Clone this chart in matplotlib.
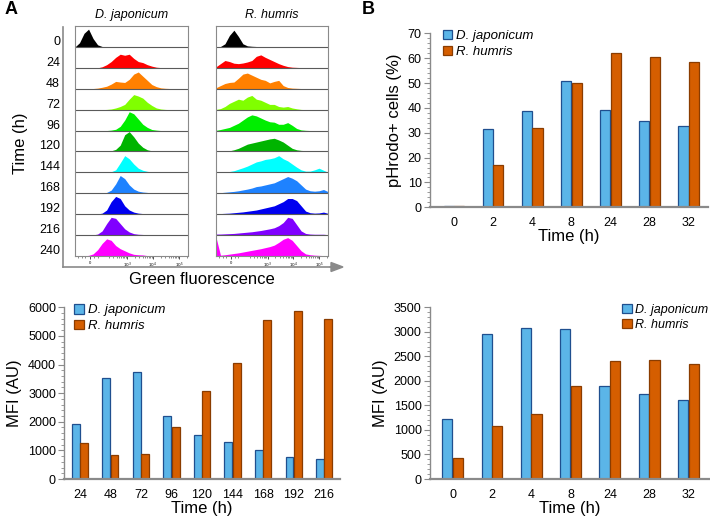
import numpy as np
import matplotlib
matplotlib.use("Agg")
import matplotlib.pyplot as plt
from matplotlib.patches import Patch
from matplotlib.ticker import MultipleLocator

plt.rcParams['font.family'] = ['Liberation Sans', 'DejaVu Sans']

# -----------------------------
# Data: flow histograms (panel A)
# -----------------------------
hist_times = [0, 24, 48, 72, 96, 120, 144, 168, 192, 216, 240]
hist_colors = ["#000000", "#ff0000", "#ff8000", "#80ff00", "#00ee00", "#00b400",
               "#00ffff", "#1e82ff", "#0000f0", "#8000ff", "#ff00ff"]
fl_grid = list(range(0, 101, 4))

dj_hist = [
    [0, 2, 6.5, 8.5, 4, 1, 0.2, 0, 0, 0, 0, 0, 0, 0, 0, 0, 0, 0, 0, 0, 0, 0, 0, 0, 0, 0],
    [0, 0, 0, 0, 0, 0, 0.5, 1.5, 3, 5, 6.5, 6, 6.5, 4.5, 3, 2.5, 1.5, 0.8, 0.3, 0.1, 0, 0, 0, 0, 0, 0],
    [0, 0, 0, 0, 0.1, 0.3, 0.7, 1.2, 2.2, 3.5, 3.2, 3, 4.5, 7, 8, 6, 4, 2, 1, 0.4, 0.2, 0.1, 0, 0, 0, 0],
    [0, 0, 0, 0, 0, 0, 0, 0.1, 0.3, 0.8, 1.5, 2.5, 5, 7.2, 6.5, 5.5, 3.5, 2, 0.8, 0.3, 0.1, 0, 0, 0, 0, 0],
    [0, 0, 0, 0, 0, 0, 0, 0, 0.2, 0.6, 2, 5, 9, 8, 5.5, 3, 1.5, 0.5, 0.2, 0, 0, 0, 0, 0, 0, 0],
    [0, 0, 0, 0, 0, 0, 0, 0.1, 0.3, 1, 3, 8, 9.5, 7, 4, 2, 0.8, 0.3, 0.1, 0, 0, 0, 0, 0, 0, 0],
    [0, 0, 0, 0, 0, 0, 0, 0.1, 0.3, 1.2, 4.5, 8, 6.5, 4, 2, 1, 0.5, 0.2, 0.1, 0, 0, 0, 0, 0, 0, 0],
    [0, 0, 0, 0, 0, 0, 0.1, 0.4, 1.5, 4.5, 8.5, 7, 4, 2, 1, 0.6, 0.4, 0.2, 0.1, 0, 0, 0, 0, 0, 0, 0],
    [0, 0, 0, 0, 0, 0.1, 0.5, 2, 6, 8.5, 7.5, 4, 2, 1, 0.5, 0.3, 0.2, 0.1, 0, 0, 0, 0, 0, 0, 0, 0],
    [0, 0, 0, 0, 0.1, 0.5, 2, 5.5, 8.5, 8, 5.5, 3, 1.5, 0.7, 0.4, 0.3, 0.2, 0.1, 0, 0, 0, 0, 0, 0, 0, 0],
    [0, 0, 0.1, 0.3, 1, 3, 6, 8.2, 7.5, 5, 3.5, 2.5, 1.5, 0.8, 0.6, 0.5, 0.2, 0.1, 0, 0, 0, 0, 0, 0, 0, 0],
]

rh_hist = [
    [0, 0.2, 1.5, 5.5, 8, 5, 1.5, 0.5, 0.3, 0.2, 0.1, 0, 0, 0, 0, 0, 0, 0, 0, 0, 0, 0, 0, 0, 0, 0],
    [0.5, 2, 3.5, 3, 2.2, 2, 2.3, 2.8, 3.5, 5.5, 6.2, 5, 4, 3, 2, 1.2, 0.6, 0.3, 0.2, 0.1, 0.1, 0.05, 0, 0, 0, 0],
    [0.5, 1.5, 2.5, 3, 3.2, 5, 7, 7.5, 6.5, 5.5, 4.5, 4, 2.8, 3.5, 4, 1.5, 0.6, 0.3, 0.2, 0.1, 0, 0, 0, 0, 0, 0],
    [0.1, 0.5, 1.5, 3, 4, 5, 4.5, 6, 6.8, 5, 4.5, 3.5, 2.5, 2.5, 1.5, 1.2, 1.5, 0.8, 0.4, 0.1, 0, 0, 0, 0, 0, 0],
    [0.1, 0.5, 1, 1.5, 2.5, 3.5, 5, 6.5, 7.5, 7, 6, 5, 4.2, 4, 3, 3, 3.8, 2.5, 1, 0.3, 0.1, 0, 0, 0, 0, 0],
    [0, 0, 0.1, 0.3, 0.8, 1.5, 2.5, 3.5, 4, 4.5, 5, 5.5, 6, 6.3, 5.5, 4.5, 3, 1.5, 0.8, 0.5, 0.4, 0.4, 0.3, 0.4, 0.3, 0.1],
    [0.1, 0.1, 0.2, 0.4, 0.8, 1.5, 2.2, 3, 4, 5, 5.5, 6.2, 6.5, 7, 8, 6.5, 5.5, 4, 2.5, 1.2, 0.6, 0.6, 1.2, 2, 1, 0.1],
    [0.2, 0.3, 0.5, 0.7, 0.9, 1.2, 1.6, 2, 2.5, 3.2, 3.5, 4, 4.5, 5, 6, 7, 8, 7.2, 6, 4, 2, 1.2, 1, 1.2, 1.8, 0.8],
    [0.2, 0.3, 0.4, 0.5, 0.7, 0.9, 1.1, 1.4, 1.7, 2, 2.5, 3, 3.5, 4, 5, 6, 7.5, 7.5, 6.5, 4, 1.5, 0.7, 0.5, 0.6, 1, 0.4],
    [0.5, 0.5, 0.6, 0.7, 0.8, 1, 1.2, 1.4, 1.6, 1.9, 2.2, 2.6, 3, 3.5, 4.5, 6, 8.5, 8, 5, 2, 0.8, 0.5, 0.4, 0.4, 0.4, 0.2],
    [9, 0.4, 0.6, 0.9, 1.2, 1.5, 1.9, 2.3, 2.7, 3.1, 3.5, 4, 4.5, 5.2, 6.5, 8, 8.8, 7.5, 5, 2.5, 1, 0.6, 0.4, 0.3, 0.2, 0.1],
]

fl_tick_pos = [13, 46, 69, 92]
fl_tick_lab = ["0", "$10^3$", "$10^4$", "$10^5$"]

# -----------------------------
# Data: bar charts
# -----------------------------
b_times = ["0", "2", "4", "8", "24", "28", "32"]
b_dj = [0.4, 31.4, 38.8, 51.0, 39.2, 34.9, 32.9]
b_rh = [0.7, 16.9, 31.8, 50.2, 62.0, 60.3, 58.5]

c_times = ["24", "48", "72", "96", "120", "144", "168", "192", "216"]
c_dj = [1920, 3540, 3730, 2190, 1530, 1280, 1000, 780, 700]
c_rh = [1260, 840, 860, 1830, 3090, 4040, 5560, 5880, 5600]

d_times = ["0", "2", "4", "8", "24", "28", "32"]
d_dj = [1220, 2960, 3070, 3060, 1900, 1740, 1620]
d_rh = [435, 1075, 1330, 1890, 2405, 2430, 2350]

BLUE = "#5bb5e8"
BLUE_EDGE = "#1f4f8f"
ORANGE = "#d55e00"
ORANGE_EDGE = "#8a3c00"
GRAY = "#8a8a8a"

W, H = 710, 520
fig = plt.figure(figsize=(W / 100, H / 100), dpi=100)


def px_axes(x0, y0, x1, y1):
    # pixel box (top-left origin) -> axes
    return fig.add_axes([x0 / W, 1 - y1 / H, (x1 - x0) / W, (y1 - y0) / H])


# -----------------------------
# Panel A: histograms
# -----------------------------
def draw_hist(ax, data, title):
    n = len(data)
    for i, row in enumerate(data):
        base = n - 1 - i
        vals = np.array(row) / 10.0
        ax.fill_between(fl_grid, base, base + vals, color=hist_colors[i], lw=0)
    for k in range(1, n):
        ax.axhline(k, color="#5a5a5a", lw=0.8)
    ax.set_xlim(0, 100)
    ax.set_ylim(0, n)
    ax.set_yticks([])
    ax.set_xticks(fl_tick_pos)
    ax.set_xticklabels(fl_tick_lab, fontsize=3)
    minor = [3, 6, 9, 17, 20]
    for start in [23, 46, 69, 92]:
        for k in range(2, 10):
            p = start + 23 * np.log10(k)
            if p < 100:
                minor.append(p)
    ax.set_xticks(minor, minor=True)
    ax.tick_params(axis="x", which="major", length=2.5, width=0.6, pad=1, color="#333333")
    ax.tick_params(axis="x", which="minor", length=1.5, width=0.4, color="#333333")
    for s in ax.spines.values():
        s.set_color(GRAY)
        s.set_linewidth(0.8)
    ax.set_title(title, fontsize=9, style="italic", pad=6)


ax_l = px_axes(75, 26, 188, 256)
draw_hist(ax_l, dj_hist, "D. japonicum")
ax_r = px_axes(216, 26, 328, 256)
draw_hist(ax_r, rh_hist, "R. humris")

n_rows = len(hist_times)
row_h = (256 - 26) / n_rows
for i, t in enumerate(hist_times):
    y = 26 + (i + 1) * row_h - 5
    fig.text(60 / W, 1 - y / H, str(t), ha="right", va="center", fontsize=9)

fig.text(20 / W, 1 - 143 / H, "Time (h)", rotation=90, ha="center", va="center", fontsize=12)

# L-shaped outer axis with arrow
fig.add_artist(plt.Line2D([63 / W, 63 / W], [1 - 27 / H, 1 - 267 / H], color=GRAY, lw=1.2))
fig.add_artist(plt.Line2D([63 / W, 336 / W], [1 - 267 / H, 1 - 267 / H], color=GRAY, lw=1.2))
fig.patches.append(matplotlib.patches.FancyArrow(
    330 / W, 1 - 267 / H, 13 / W, 0, width=0.0005, head_width=9 / H, head_length=12 / W,
    length_includes_head=True, color=GRAY, transform=fig.transFigure, figure=fig))
fig.text(202 / W, 1 - 279 / H, "Green fluorescence", ha="center", va="center", fontsize=12)


# -----------------------------
# Bar charts
# -----------------------------
def draw_bars(ax, labels, dj, rh, ymax, major, minor, xlim, ylabel):
    x = np.arange(len(labels))
    bw = 0.26
    ax.bar(x - bw / 2 - 0.005, dj, bw, color=BLUE, edgecolor=BLUE_EDGE, lw=0.9)
    ax.bar(x + bw / 2 + 0.005, rh, bw, color=ORANGE, edgecolor=ORANGE_EDGE, lw=0.9)
    ax.set_xlim(*xlim)
    ax.set_ylim(0, ymax)
    ax.set_xticks(x)
    ax.set_xticklabels(labels, fontsize=9)
    ax.yaxis.set_major_locator(MultipleLocator(major))
    ax.yaxis.set_minor_locator(MultipleLocator(minor))
    ax.tick_params(axis="y", which="major", length=4, width=0.8, color=GRAY, labelsize=9, pad=2)
    ax.tick_params(axis="y", which="minor", length=2.5, width=0.6, color=GRAY)
    ax.tick_params(axis="x", length=0, pad=7)
    for s in ["top", "right"]:
        ax.spines[s].set_visible(False)
    ax.spines["left"].set_color(GRAY)
    ax.spines["left"].set_linewidth(1.0)
    ax.spines["bottom"].set_color(GRAY)
    ax.spines["bottom"].set_linewidth(1.6)
    ax.set_xlabel("Time (h)", fontsize=12, labelpad=0)
    ax.set_ylabel(ylabel, fontsize=12, labelpad=4)


def add_legend(ax, loc, anchor, size=9.5):
    handles = [Patch(facecolor=BLUE, edgecolor=BLUE_EDGE, lw=0.9, label="D. japonicum"),
               Patch(facecolor=ORANGE, edgecolor=ORANGE_EDGE, lw=0.9, label="R. humris")]
    leg = ax.legend(handles=handles, loc=loc, bbox_to_anchor=anchor, frameon=False,
                    handlelength=0.75, handleheight=0.75, handletextpad=0.3,
                    labelspacing=0.25, borderpad=0, borderaxespad=0,
                    prop={"size": size, "style": "italic"})
    return leg


ax_b = px_axes(430, 33.3, 708, 207.3)
draw_bars(ax_b, b_times, b_dj, b_rh, 70, 10, 2, (-0.61, 6.49), "pHrodo+ cells (%)")
add_legend(ax_b, "upper left", (0.045, 1.02))

ax_c = px_axes(64.3, 307.3, 340, 479)
draw_bars(ax_c, c_times, c_dj, c_rh, 6000, 1000, 200, (-0.51, 8.52), "MFI (AU)")
add_legend(ax_c, "upper left", (0.035, 1.02))

ax_d = px_axes(430, 307.3, 710, 479)
draw_bars(ax_d, d_times, d_dj, d_rh, 3500, 500, 100, (-0.577, 6.55), "MFI (AU)")
add_legend(ax_d, "upper right", (0.995, 1.02), size=9)

fig.text(5 / W, 1 - 10 / H, "A", fontsize=13, fontweight="bold", ha="left", va="center")
fig.text(362 / W, 1 - 10 / H, "B", fontsize=13, fontweight="bold", ha="left", va="center")

fig.savefig("out.png", dpi=100)
